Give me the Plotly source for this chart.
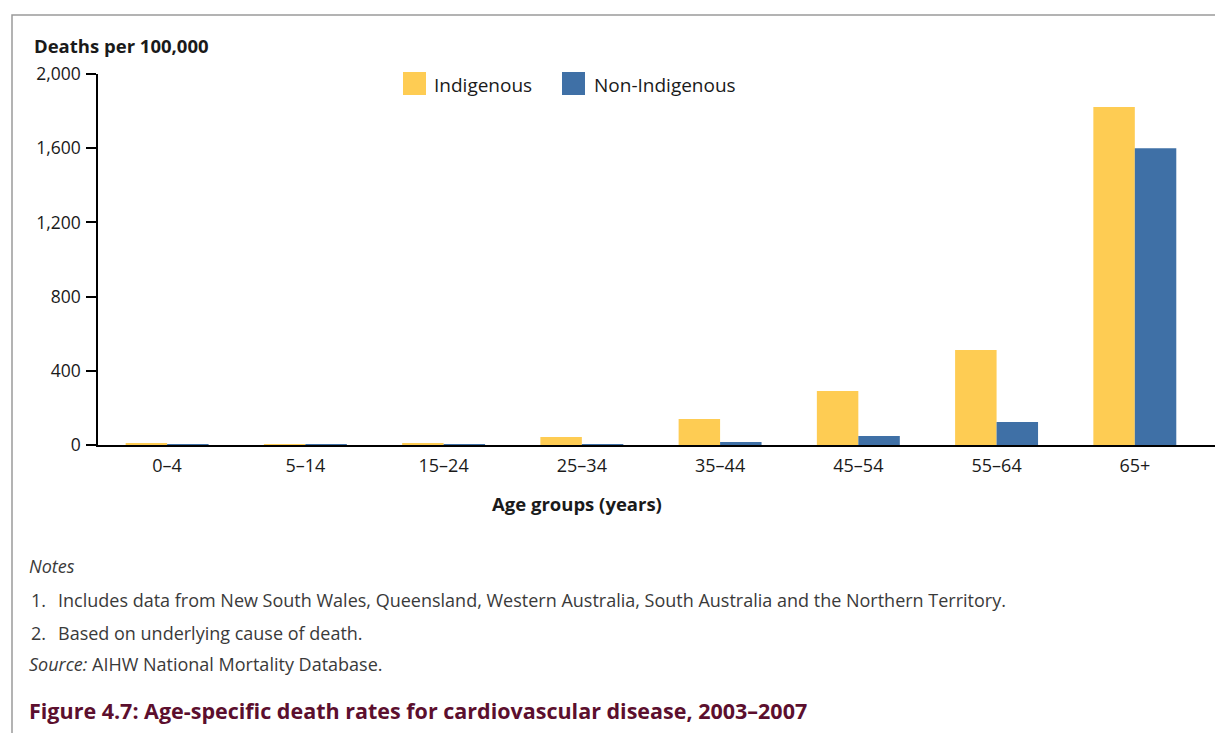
import plotly.graph_objects as go

# ---- data ----
age_groups = ["0–4", "5–14", "15–24", "25–34", "35–44", "45–54", "55–64", "65+"]
indigenous = [9, 5, 9, 43, 140, 291, 512, 1822]
non_indigenous = [4, 2, 3, 4, 16, 49, 124, 1600]
y_ticks = [0, 400, 800, 1200, 1600, 2000]
y_tick_text = ["0", "400", "800", "1,200", "1,600", "2,000"]

OFF = 8  # page body margin offset
W, H = 1223 - OFF, 733 - OFF
L, R, T, B = 98, 1215, 74, 445  # plot area in reference pixels

def px(x):
    return (x - L) / (R - L)

def py(y):
    return (B - y) / (B - T)

FONT = "Open Sans"
YELLOW = "#FECC53"
BLUE = "#3F70A6"
TXT = "#1a1a1a"
NOTE = "#3a3a3a"

fig = go.Figure()
fig.add_trace(go.Bar(x=age_groups, y=indigenous, name="Indigenous",
                     marker=dict(color=YELLOW, line=dict(width=0))))
fig.add_trace(go.Bar(x=age_groups, y=non_indigenous, name="Non-Indigenous",
                     marker=dict(color=BLUE, line=dict(width=0))))

fig.update_layout(
    width=W, height=H,
    margin=dict(l=L - OFF, r=W - (R - OFF), t=T - OFF, b=H - (B - OFF), pad=0),
    paper_bgcolor="white", plot_bgcolor="white",
    barmode="group", bargap=0.4, bargroupgap=0,
    showlegend=False,
    font=dict(family=FONT, size=16, color=TXT),
)
fig.update_xaxes(
    type="category", range=[-0.5, 7.58],
    showline=True, linecolor="black", linewidth=1.5,
    ticks="", showgrid=False, zeroline=False,
    tickfont=dict(size=18, color=TXT),
    ticklabelstandoff=4,
)
fig.update_yaxes(
    range=[0, 2000], tickvals=y_ticks, ticktext=y_tick_text,
    showline=True, linecolor="black", linewidth=1.5,
    ticks="outside", ticklen=10, tickwidth=1.5, tickcolor="black",
    showgrid=False, zeroline=False,
    tickfont=dict(size=17.5, color=TXT),
    ticklabelstandoff=2,
)

ann = []
def text(x, y, s, size=16, color=TXT, xanchor="left", bold=False, italic=False):
    if bold:
        s = f"<b>{s}</b>"
    if italic:
        s = f"<i>{s}</i>"
    ann.append(dict(x=px(x), y=py(y), xref="paper", yref="paper", text=s,
                    showarrow=False, xanchor=xanchor, yanchor="middle",
                    font=dict(family=FONT, size=size, color=color)))

text(32, 45, "Deaths per 100,000", size=18.5, bold=True)
text(577, 503, "Age groups (years)", size=18.5, xanchor="center", bold=True)
# legend
text(432, 85, "Indigenous", size=19)
text(592, 85, "Non-Indigenous", size=19)
# notes
text(27, 566, "Notes", size=18, color=NOTE, italic=True)
text(29, 600, "1.", size=18, color=NOTE)
text(56, 600, "Includes data from New South Wales, Queensland, Western Australia, South Australia and the Northern Territory.", size=18, color=NOTE)
text(29, 633, "2.", size=18, color=NOTE)
text(56, 633, "Based on underlying cause of death.", size=18, color=NOTE)
text(27, 664, "<i>Source:</i> AIHW National Mortality Database.", size=18, color=NOTE)
text(27, 711, "Figure 4.7: Age-specific death rates for cardiovascular disease, 2003–2007", size=21.5, color="#5C0F2E", bold=True)
fig.update_layout(annotations=ann)

shapes = [
    # outer frame
    dict(type="rect", xref="paper", yref="paper", x0=px(12), x1=px(1260), y0=py(15), y1=py(780),
         line=dict(color="#9a9a9a", width=1.5), fillcolor="rgba(0,0,0,0)", layer="below"),
    # legend swatches
    dict(type="rect", xref="paper", yref="paper", x0=px(403), x1=px(426), y0=py(72), y1=py(95),
         line=dict(width=0), fillcolor=YELLOW),
    dict(type="rect", xref="paper", yref="paper", x0=px(562), x1=px(585), y0=py(72), y1=py(95),
         line=dict(width=0), fillcolor=BLUE),
]
fig.update_layout(shapes=shapes)

fig.write_html("out.html")
